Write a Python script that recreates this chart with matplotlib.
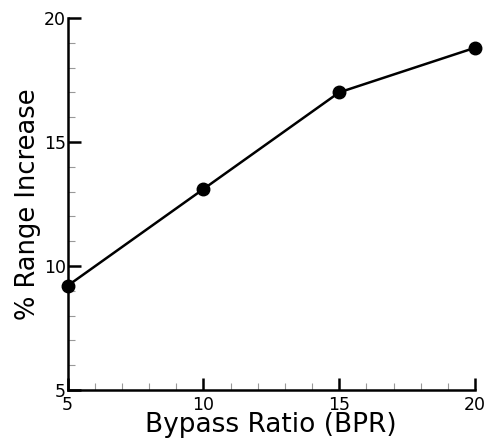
import matplotlib
matplotlib.use("Agg")
import matplotlib.pyplot as plt
from matplotlib.ticker import MultipleLocator

# data
bpr = [5, 10, 15, 20]
range_increase = [9.2, 13.1, 17.0, 18.8]

plt.rcParams["font.family"] = ["DejaVu Sans"]

fig = plt.figure(figsize=(4.9, 4.42), dpi=100)
ax = fig.add_axes([67.5 / 490, 1 - 390 / 442, (475 - 67.5) / 490, (390 - 18) / 442])

ax.plot(bpr, range_increase, color="black", linewidth=1.8, marker="o",
        markersize=9, clip_on=False, zorder=3)

ax.set_xlim(5, 20)
ax.set_ylim(5, 20)
ax.xaxis.set_major_locator(MultipleLocator(5))
ax.xaxis.set_minor_locator(MultipleLocator(1))
ax.yaxis.set_major_locator(MultipleLocator(5))
ax.yaxis.set_minor_locator(MultipleLocator(1))

for side in ["top", "right"]:
    ax.spines[side].set_visible(False)
for side in ["left", "bottom"]:
    ax.spines[side].set_linewidth(1.8)

ax.tick_params(which="major", direction="in", length=9, width=1.8,
               labelsize=12.5, pad=1)
ax.tick_params(axis="x", which="major", pad=4)
ax.tick_params(which="minor", direction="in", length=5, width=0.8,
               color="#999999")

ax.set_xlabel("Bypass Ratio (BPR)", fontsize=19, labelpad=-1)
ax.set_ylabel("% Range Increase", fontsize=18.5, labelpad=2)

fig.savefig("out.png", dpi=100)
